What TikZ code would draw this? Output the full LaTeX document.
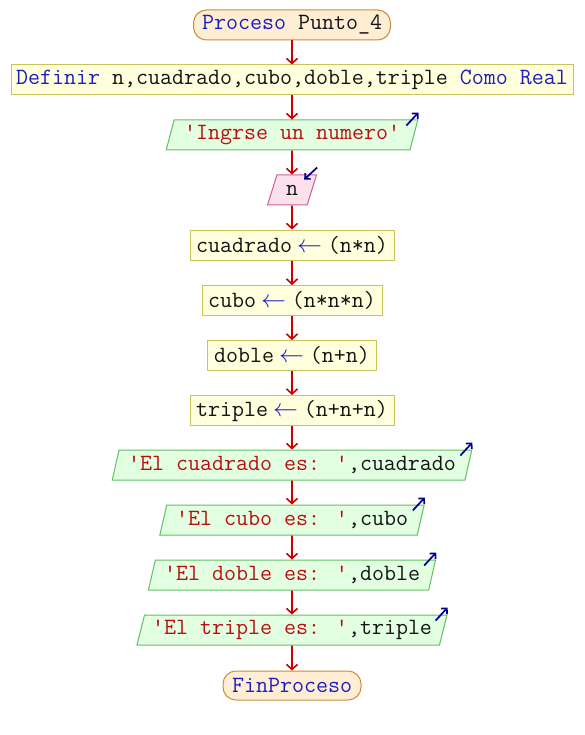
\documentclass[tikz,border=0pt]{standalone}
\usepackage{fontspec}
\usetikzlibrary{shapes.geometric,arrows.meta,calc}
\definecolor{kw}{RGB}{30,30,190}
\definecolor{str}{RGB}{185,15,15}
\definecolor{idc}{RGB}{20,20,20}
\definecolor{termfill}{RGB}{255,238,212}
\definecolor{termdraw}{RGB}{200,140,60}
\definecolor{boxfill}{RGB}{255,255,221}
\definecolor{boxdraw}{RGB}{200,195,90}
\definecolor{outfill}{RGB}{226,255,226}
\definecolor{outdraw}{RGB}{100,190,100}
\definecolor{infill}{RGB}{252,224,236}
\definecolor{indraw}{RGB}{205,95,150}
\definecolor{flowc}{RGB}{204,0,0}
\definecolor{ioarrow}{RGB}{0,0,140}
\newcommand{\asg}{\kern5pt{\color{kw}$\leftarrow$}\kern6pt}
\begin{document}
\begin{tikzpicture}[x=1pt,y=-1pt,
  every node/.style={font=\fontsize{23.3}{27}\selectfont\ttfamily, inner sep=0pt, minimum height=30pt, line width=1pt, text=idc},
  term/.style={draw=termdraw, fill=termfill, rounded corners=13pt},
  stmt/.style={draw=boxdraw, fill=boxfill},
  outp/.style={trapezium, trapezium left angle=70, trapezium right angle=110, trapezium stretches=true, draw=outdraw, fill=outfill},
  inp/.style={trapezium, trapezium left angle=70, trapezium right angle=110, trapezium stretches=true, draw=indraw, fill=infill},
  flow/.style={draw=flowc, line width=1.6pt, -{Straight Barb[length=5pt,width=11pt,line width=1.6pt]}},
  ioarr/.style={draw=ioarrow, line width=1.7pt, -{Straight Barb[length=4pt,width=8pt,line width=1.7pt]}}
]
\useasboundingbox (0,0) rectangle (584,735);

\node[term, minimum width=197pt] (p) at (292,25) {{\color{kw}Proceso} Punto\_4};
\node[stmt, minimum width=562pt] (d) at (292,80) {{\color{kw}Definir} n,cuadrado,cubo,doble,triple {\color{kw}Como Real}};
\node[outp, minimum width=252pt] (o1) at (292,135) {{\color{str}'Ingrse un numero'}};
\node[inp, minimum width=49pt] (n) at (292,190) {n};
\node[stmt, minimum width=204pt] (a1) at (292,245) {cuadrado\asg(n*n)};
\node[stmt, minimum width=180pt] (a2) at (292,300.5) {cubo\asg(n*n*n)};
\node[stmt, minimum width=169pt] (a3) at (292,355.5) {doble\asg(n+n)};
\node[stmt, minimum width=204pt] (a4) at (292,410.5) {triple\asg(n+n+n)};
\node[outp, minimum width=360pt] (o2) at (292,465) {{\color{str}'El cuadrado es: '},cuadrado};
\node[outp, minimum width=265pt] (o3) at (292,520) {{\color{str}'El cubo es: '},cubo};
\node[outp, minimum width=288pt] (o4) at (292,575) {{\color{str}'El doble es: '},doble};
\node[outp, minimum width=311pt] (o5) at (292,630) {{\color{str}'El triple es: '},triple};
\node[term, minimum width=138pt, minimum height=29pt] (f) at (292,685.5) {{\color{kw}FinProceso}};

\draw[flow] (p) -- (d);
\draw[flow] (d) -- (o1);
\draw[flow] (o1) -- (n);
\draw[flow] (n) -- (a1);
\draw[flow] (a1) -- (a2);
\draw[flow] (a2) -- (a3);
\draw[flow] (a3) -- (a4);
\draw[flow] (a4) -- (o2);
\draw[flow] (o2) -- (o3);
\draw[flow] (o3) -- (o4);
\draw[flow] (o4) -- (o5);
\draw[flow] (o5) -- (f);

\foreach \o in {o1,o2,o3,o4,o5}{
  \draw[ioarr] ($(\o.top right corner)+(-12,6)$) -- ($(\o.top right corner)+(0,-7)$);
}
\draw[ioarr] ($(n.top right corner)+(0,-7)$) -- ($(n.top right corner)+(-13,5)$);
\end{tikzpicture}
\end{document}
